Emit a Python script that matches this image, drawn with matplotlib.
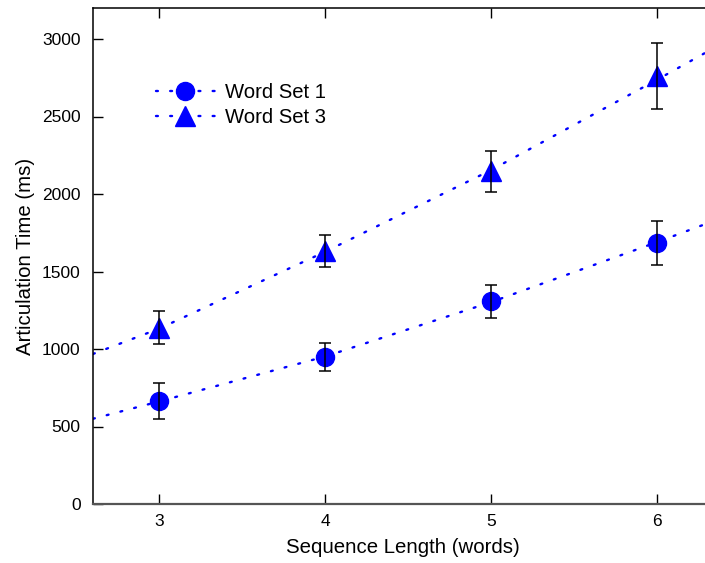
import matplotlib

matplotlib.use("Agg")
from matplotlib import pyplot as plt

plt.rcParams["font.family"] = ["Liberation Sans", "DejaVu Sans"]

# measured means and error bars
seq_len = [3, 4, 5, 6]
set1_mean = [665, 948, 1308, 1686]
set1_err = [115, 92, 107, 143]
set3_mean = [1138, 1634, 2146, 2762]
set3_err = [107, 102, 130, 215]

# fitted curves
fit_x = [2.6, 3, 4, 5, 6, 6.33]
fit1_y = [550, 662, 952, 1303, 1690, 1822]
fit3_y = [968, 1132, 1628, 2155, 2738, 2935]

BLUE = "#0000ff"
DOTTED = (0, (0.8, 5.2))


def draw_series(ax, mean, err, fit_y, marker, ms, label):
    ax.plot(fit_x, fit_y, color=BLUE, lw=1.7, linestyle=DOTTED,
            dash_capstyle="round", zorder=2)
    ax.errorbar(seq_len, mean, yerr=err, fmt="none", ecolor="black",
                elinewidth=1.1, capsize=4, capthick=1.1, zorder=4)
    ax.plot(seq_len, mean, linestyle="none", marker=marker, ms=ms,
            color=BLUE, zorder=3)
    # legend proxy
    ax.plot([], [], color=BLUE, lw=1.7, linestyle=DOTTED,
            dash_capstyle="round", marker=marker, ms=ms, label=label)


def main() -> None:
    fig = plt.figure(figsize=(7.05, 5.63), dpi=100)
    ax = fig.add_axes([93 / 705, 59 / 563, 1 - 93 / 705 + 0.01, 496 / 563])

    draw_series(ax, set1_mean, set1_err, fit1_y, "o", 13, "Word Set 1")
    draw_series(ax, set3_mean, set3_err, fit3_y, "^", 15, "Word Set 3")

    ax.set_xlim(2.6, 6.33)
    ax.set_ylim(0, 3200)
    ax.set_xticks(seq_len)
    ax.set_yticks([0, 500, 1000, 1500, 2000, 2500, 3000])

    ax.spines["right"].set_visible(False)
    ax.spines["bottom"].set_color("#555555")
    ax.spines["bottom"].set_linewidth(1.6)
    ax.spines["left"].set_linewidth(1.1)
    ax.spines["top"].set_linewidth(1.1)
    ax.tick_params(axis="x", direction="in", top=True, length=7, width=1,
                   labelsize=12.5, pad=7)
    ax.tick_params(axis="y", direction="in", length=7, width=1,
                   labelsize=12.5, pad=9)

    ax.set_xlabel("Sequence Length (words)", fontsize=14.7, labelpad=7)
    ax.set_ylabel("Articulation Time (ms)", fontsize=14.7, labelpad=5)

    ax.legend(loc="upper left", bbox_to_anchor=(0.085, 0.87), frameon=False,
              fontsize=14.6, handlelength=2.9, handletextpad=0.5,
              labelspacing=0.33, borderpad=0)

    fig.savefig("out.png", dpi=100)


if __name__ == "__main__":
    main()
